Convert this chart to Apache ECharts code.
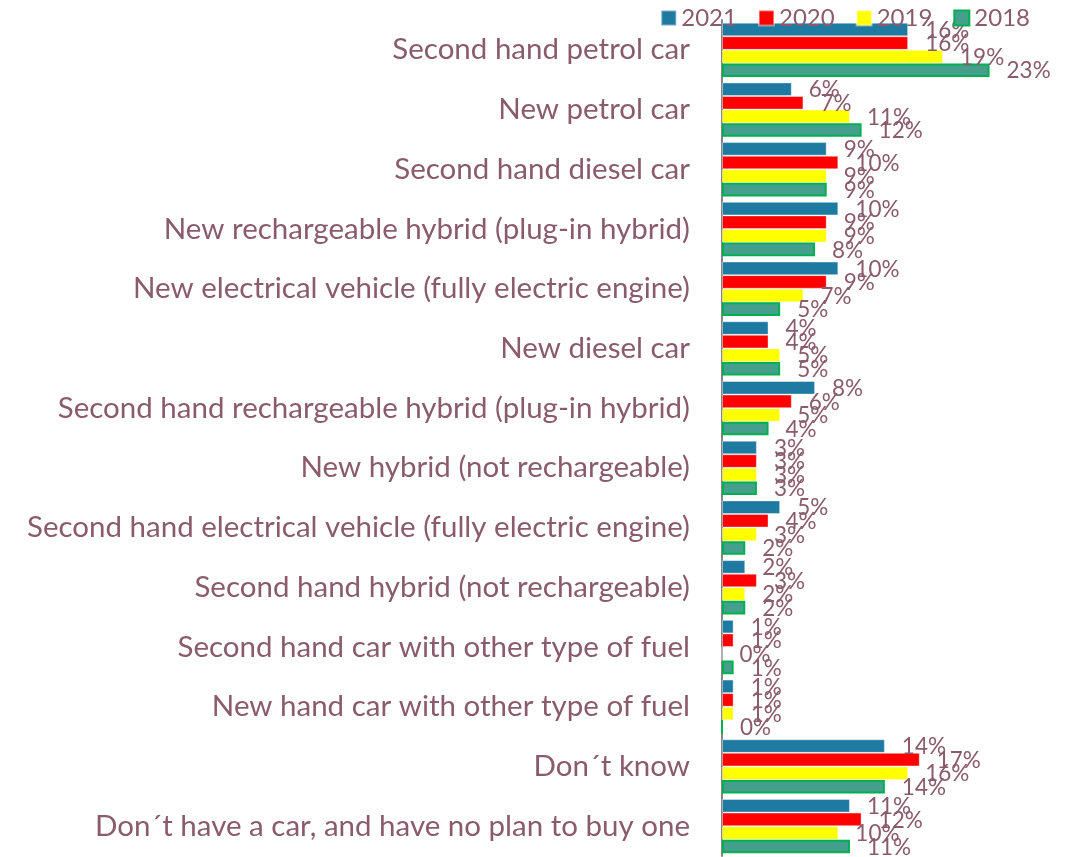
<!DOCTYPE html>
<html>
<head>
<meta charset="utf-8">
<script src="https://cdn.jsdelivr.net/npm/echarts@6/dist/echarts.min.js"></script>
<style>
  html, body { margin: 0; padding: 0; background: #fff; }
  #main { width: 1076px; height: 857px; }
</style>
</head>
<body>
<div id="main"></div>
<script>
var categories = [
  'Second hand petrol car',
  'New petrol car',
  'Second hand diesel car',
  'New rechargeable hybrid (plug-in hybrid)',
  'New electrical vehicle (fully electric engine)',
  'New diesel car',
  'Second hand rechargeable hybrid (plug-in hybrid)',
  'New hybrid (not rechargeable)',
  'Second hand electrical vehicle (fully electric engine)',
  'Second hand hybrid (not rechargeable)',
  'Second hand car with other type of fuel',
  'New hand car with other type of fuel',
  'Don\u00b4t know',
  'Don\u00b4t have a car, and have no plan to buy one'
];
var years = ['2021', '2020', '2019', '2018'];
var v2021 = [16, 6, 9, 10, 10, 4, 8, 3, 5, 2, 1, 1, 14, 11];
var v2020 = [16, 7, 10, 9, 9, 4, 6, 3, 4, 3, 1, 1, 17, 12];
var v2019 = [19, 11, 9, 9, 7, 5, 5, 3, 3, 2, 0, 1, 16, 10];
var v2018 = [23, 12, 9, 8, 5, 5, 4, 3, 2, 2, 1, 0, 14, 11];

var textColor = '#8a5b6c';
var font = 'Lato, "Open Sans", sans-serif';

var chartDom = document.getElementById('main');
var myChart = echarts.init(chartDom);
var option;

function makeSeries(name, data, color, border) {
  return {
    name: name,
    type: 'bar',
    data: data,
    barGap: '0%',
    barCategoryGap: '9%',
    itemStyle: {
      color: color,
      borderColor: border || 'rgba(255,255,255,0.4)',
      borderWidth: border ? 2 : 1
    },
    label: {
      show: true,
      position: 'right',
      distance: 17,
      offset: [0, 1],
      formatter: '{c}%',
      color: textColor,
      fontSize: 22.5,
      fontFamily: font
    }
  };
}

option = {
  animation: false,
  textStyle: { fontFamily: font },
  legend: {
    top: 1,
    right: 41,
    itemWidth: 15,
    itemHeight: 15,
    itemGap: 21,
    icon: 'rect',
    textStyle: { color: textColor, fontSize: 24, fontFamily: font },
    data: years
  },
  grid: {
    left: 722,
    right: 5,
    top: 20,
    bottom: 1
  },
  xAxis: {
    type: 'value',
    min: 0,
    max: 30,
    show: false
  },
  yAxis: {
    type: 'category',
    data: categories,
    inverse: true,
    axisLine: { lineStyle: { color: '#868686', width: 2 } },
    axisTick: { length: 8, lineStyle: { color: '#868686', width: 2 } },
    axisLabel: {
      color: textColor,
      fontSize: 29.5,
      fontFamily: font,
      margin: 32
    }
  },
  series: [
    makeSeries(years[0], v2021, '#1f7aa2'),
    makeSeries(years[1], v2020, '#ff0000'),
    makeSeries(years[2], v2019, '#ffff00'),
    makeSeries(years[3], v2018, '#44a08c', '#00b050')
  ]
};

option && myChart.setOption(option);
</script>
</body>
</html>
